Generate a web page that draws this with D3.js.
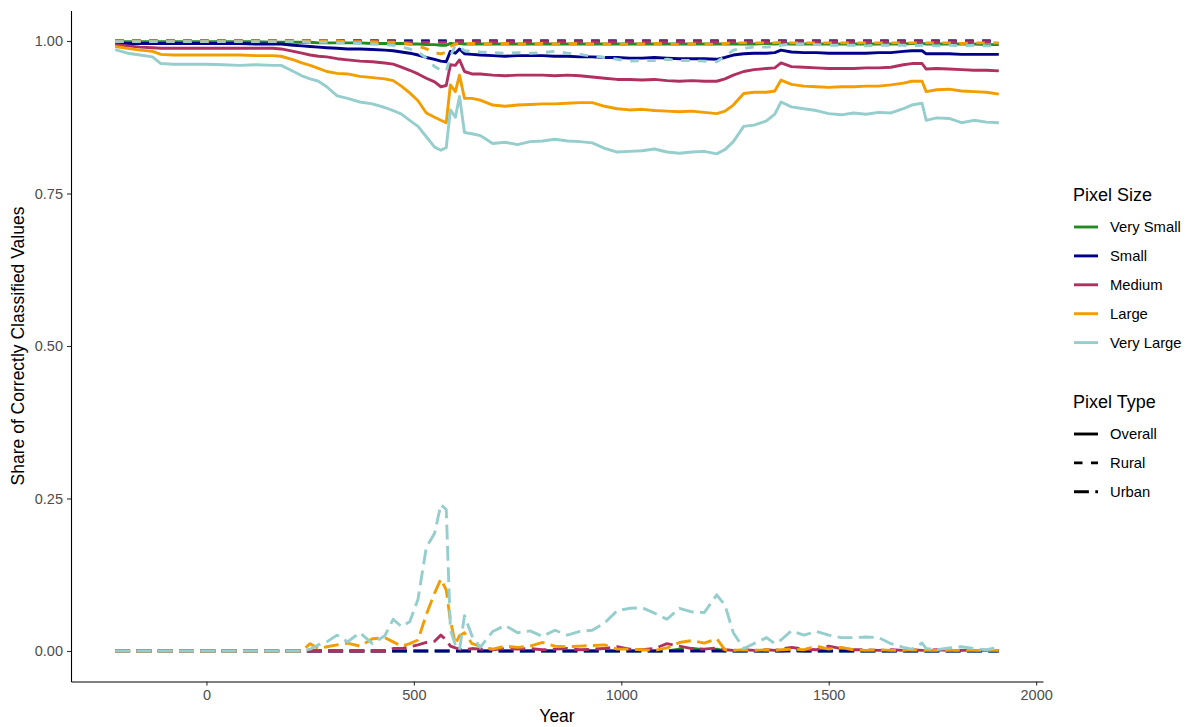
<!DOCTYPE html>
<html>
<head>
<meta charset="utf-8">
<script src="https://cdn.jsdelivr.net/npm/d3@7"></script>
<style>
	body { margin: 0; background: #ffffff; }
	svg { font-family: "Liberation Sans", Arial, Helvetica, sans-serif; }
</style>
</head>
<body>
<svg id="svg_main" width="1192" height="727"></svg>
<script>
// years shared by every series (irregular, finer where the curves jump)
var years = [
	-220, -190, -160, -130, -110, -80, -40, 0, 40, 80,
	120, 160, 180, 210, 230, 250, 270, 290, 315, 340,
	370, 400, 430, 450, 470, 490, 510, 530, 550, 565,
	578, 588, 600, 610, 622, 640, 660, 690, 720, 750,
	780, 810, 840, 870, 900, 930, 960, 990, 1020, 1050,
	1080, 1110, 1140, 1170, 1200, 1230, 1250, 1270, 1295, 1320,
	1350, 1370, 1385, 1410, 1440, 1470, 1500, 1530, 1560, 1590,
	1620, 1650, 1680, 1700, 1725, 1735, 1760, 1790, 1820, 1850,
	1880, 1910];

var sizes = ["Very Small", "Small", "Medium", "Large", "Very Large"];
var types = ["Overall", "Rural", "Urban"];
var colors = ["#228B22", "#00008B", "#B03060", "#F29D00", "#96CDCD"];
var dashes = { "Overall": null, "Rural": "8.5,8.5", "Urban": "14.9,6.4" };

var yTicks = [0, 0.25, 0.5, 0.75, 1];
var xTicks = [0, 500, 1000, 1500, 2000];

// Overall
var vsOverall = [
	0.999, 0.999, 0.999, 0.999, 0.999, 0.999, 0.999, 0.999, 0.999, 0.999,
	0.999, 0.998, 0.998, 0.998, 0.998, 0.998, 0.997, 0.997, 0.997, 0.997,
	0.997, 0.996, 0.996, 0.996, 0.996, 0.995, 0.995, 0.994, 0.994, 0.993,
	0.993, 0.996, 0.995, 0.996, 0.995, 0.995, 0.995, 0.995, 0.995, 0.995,
	0.995, 0.995, 0.995, 0.995, 0.995, 0.995, 0.995, 0.995, 0.995, 0.995,
	0.995, 0.995, 0.995, 0.995, 0.995, 0.995, 0.995, 0.995, 0.995, 0.995,
	0.996, 0.995, 0.996, 0.995, 0.995, 0.995, 0.995, 0.995, 0.995, 0.995,
	0.995, 0.995, 0.995, 0.996, 0.996, 0.995, 0.995, 0.995, 0.995, 0.995,
	0.994, 0.994];
var smOverall = [
	0.997, 0.996, 0.996, 0.996, 0.996, 0.996, 0.996, 0.996, 0.996, 0.996,
	0.995, 0.995, 0.995, 0.993, 0.992, 0.991, 0.990, 0.989, 0.988, 0.987,
	0.987, 0.986, 0.985, 0.984, 0.982, 0.980, 0.977, 0.973, 0.970, 0.967,
	0.966, 0.983, 0.980, 0.987, 0.979, 0.978, 0.977, 0.976, 0.975, 0.976,
	0.976, 0.976, 0.975, 0.975, 0.974, 0.974, 0.973, 0.973, 0.972, 0.972,
	0.973, 0.972, 0.971, 0.971, 0.971, 0.970, 0.973, 0.977, 0.979, 0.980,
	0.980, 0.981, 0.985, 0.982, 0.981, 0.981, 0.980, 0.980, 0.980, 0.980,
	0.981, 0.981, 0.983, 0.984, 0.984, 0.979, 0.979, 0.979, 0.978, 0.978,
	0.978, 0.978];
var mdOverall = [
	0.994, 0.992, 0.990, 0.989, 0.988, 0.988, 0.988, 0.988, 0.988, 0.988,
	0.988, 0.988, 0.987, 0.983, 0.980, 0.977, 0.975, 0.974, 0.971, 0.969,
	0.967, 0.966, 0.964, 0.962, 0.957, 0.952, 0.946, 0.939, 0.933, 0.925,
	0.927, 0.961, 0.960, 0.969, 0.950, 0.946, 0.946, 0.944, 0.943, 0.944,
	0.944, 0.944, 0.943, 0.944, 0.943, 0.941, 0.939, 0.937, 0.937, 0.936,
	0.937, 0.935, 0.934, 0.935, 0.934, 0.934, 0.938, 0.944, 0.950, 0.953,
	0.955, 0.956, 0.964, 0.958, 0.957, 0.956, 0.955, 0.955, 0.955, 0.956,
	0.956, 0.957, 0.961, 0.963, 0.963, 0.954, 0.955, 0.954, 0.953, 0.952,
	0.952, 0.951];
var lgOverall = [
	0.991, 0.988, 0.985, 0.983, 0.978, 0.977, 0.977, 0.977, 0.977, 0.977,
	0.976, 0.976, 0.975, 0.969, 0.964, 0.960, 0.955, 0.950, 0.947, 0.946,
	0.942, 0.940, 0.938, 0.935, 0.926, 0.915, 0.902, 0.882, 0.875, 0.870,
	0.866, 0.928, 0.917, 0.944, 0.906, 0.906, 0.903, 0.895, 0.893, 0.895,
	0.896, 0.897, 0.897, 0.898, 0.899, 0.899, 0.893, 0.889, 0.887, 0.888,
	0.886, 0.885, 0.884, 0.885, 0.883, 0.881, 0.885, 0.895, 0.914, 0.916,
	0.916, 0.918, 0.936, 0.929, 0.926, 0.925, 0.924, 0.925, 0.925, 0.926,
	0.926, 0.928, 0.931, 0.934, 0.934, 0.917, 0.920, 0.921, 0.918, 0.917,
	0.916, 0.913];
var vlOverall = [
	0.986, 0.980, 0.977, 0.974, 0.963, 0.962, 0.962, 0.962, 0.961, 0.960,
	0.961, 0.960, 0.960, 0.950, 0.943, 0.938, 0.934, 0.925, 0.910, 0.906,
	0.900, 0.897, 0.891, 0.886, 0.880, 0.870, 0.860, 0.843, 0.826, 0.821,
	0.825, 0.887, 0.875, 0.909, 0.850, 0.848, 0.845, 0.832, 0.834, 0.830,
	0.835, 0.836, 0.839, 0.836, 0.835, 0.833, 0.824, 0.818, 0.819, 0.820,
	0.823, 0.818, 0.816, 0.818, 0.819, 0.815, 0.822, 0.835, 0.860, 0.862,
	0.869, 0.880, 0.900, 0.892, 0.889, 0.886, 0.881, 0.879, 0.882, 0.880,
	0.883, 0.882, 0.889, 0.895, 0.898, 0.870, 0.874, 0.873, 0.866, 0.870,
	0.867, 0.866];

// Rural
var vsRural = [
	1, 1, 1, 1, 1, 1, 1, 1, 1, 1,
	1, 1, 1, 1, 1, 1, 1, 1, 1, 1,
	1, 1, 1, 1, 1, 1, 1, 1, 1, 1,
	1, 1, 1, 1, 1, 1, 1, 1, 1, 1,
	1, 1, 1, 1, 1, 1, 1, 1, 1, 1,
	1, 1, 1, 1, 1, 1, 1, 1, 1, 1,
	1, 1, 1, 1, 1, 1, 1, 1, 1, 1,
	1, 1, 1, 1, 1, 1, 1, 1, 1, 1,
	1, 1];
var smRural = [
	1, 1, 1, 1, 1, 1, 1, 1, 1, 1,
	1, 1, 1, 1, 1, 1, 1, 1, 1, 1,
	1, 1, 1, 1, 1, 1, 1, 1, 1, 1,
	1, 1, 1, 1, 1, 1, 1, 1, 1, 1,
	1, 1, 1, 1, 1, 1, 1, 1, 1, 1,
	1, 1, 1, 1, 1, 1, 1, 1, 1, 1,
	1, 1, 1, 1, 1, 1, 1, 1, 1, 1,
	1, 1, 1, 1, 1, 1, 1, 1, 1, 1,
	1, 1];
var mdRural = [
	0.999, 0.999, 0.999, 0.999, 0.999, 0.999, 0.999, 0.999, 0.999, 0.999,
	0.999, 0.999, 0.999, 0.999, 0.999, 0.999, 0.999, 0.999, 0.999, 0.999,
	0.999, 0.999, 0.999, 0.999, 0.998, 0.998, 0.998, 0.998, 0.998, 0.998,
	0.998, 0.999, 0.999, 0.999, 0.999, 0.999, 0.999, 0.999, 0.999, 0.999,
	0.999, 0.999, 0.999, 0.999, 0.999, 0.999, 0.999, 0.999, 0.999, 0.999,
	0.999, 0.999, 0.999, 0.999, 0.999, 0.999, 0.999, 0.999, 0.999, 0.999,
	0.999, 0.999, 0.999, 0.999, 0.999, 0.999, 0.999, 0.999, 0.999, 0.999,
	0.999, 0.999, 0.999, 0.999, 0.999, 0.999, 0.999, 0.999, 0.999, 0.999,
	0.999, 0.999];
var lgRural = [
	1, 1, 1, 1, 1, 1, 1, 1, 1, 1,
	1, 1, 1, 1, 1, 1, 1, 1, 1, 0.999,
	0.999, 0.999, 0.998, 0.998, 0.997, 0.995, 0.992, 0.987, 0.981, 0.979,
	0.982, 0.991, 0.995, 0.996, 0.995, 0.996, 0.995, 0.995, 0.996, 0.995,
	0.995, 0.996, 0.995, 0.995, 0.996, 0.995, 0.995, 0.994, 0.995, 0.995,
	0.996, 0.995, 0.994, 0.995, 0.995, 0.994, 0.996, 0.997, 0.997, 0.997,
	0.997, 0.997, 0.998, 0.997, 0.997, 0.997, 0.997, 0.997, 0.997, 0.997,
	0.997, 0.997, 0.997, 0.997, 0.997, 0.997, 0.997, 0.997, 0.996, 0.997,
	0.997, 0.997];
var vlRural = [
	0.999, 0.999, 0.999, 0.999, 0.999, 0.999, 0.999, 0.999, 0.999, 0.999,
	0.999, 0.999, 0.999, 0.999, 0.999, 0.998, 0.998, 0.998, 0.997, 0.997,
	0.996, 0.995, 0.994, 0.993, 0.990, 0.987, 0.982, 0.972, 0.958, 0.952,
	0.950, 0.975, 0.993, 0.990, 0.984, 0.983, 0.982, 0.981, 0.980, 0.981,
	0.980, 0.981, 0.983, 0.980, 0.978, 0.975, 0.973, 0.970, 0.967, 0.968,
	0.968, 0.970, 0.968, 0.968, 0.967, 0.966, 0.975, 0.985, 0.988, 0.990,
	0.990, 0.991, 0.993, 0.995, 0.995, 0.994, 0.993, 0.993, 0.993, 0.992,
	0.993, 0.993, 0.993, 0.992, 0.993, 0.993, 0.992, 0.993, 0.992, 0.993,
	0.992, 0.992];

// Urban
var vsUrban = [
	0, 0, 0, 0, 0, 0, 0, 0, 0, 0,
	0, 0, 0, 0, 0, 0, 0, 0, 0, 0,
	0, 0, 0, 0, 0, 0, 0, 0, 0, 0,
	0, 0, 0, 0, 0, 0, 0, 0, 0, 0,
	0, 0, 0, 0, 0, 0, 0, 0, 0, 0,
	0, 0, 0.003, 0.004, 0.002, 0.003, 0, 0, 0, 0,
	0, 0, 0, 0.002, 0, 0, 0, 0, 0, 0,
	0, 0, 0, 0, 0, 0, 0, 0, 0, 0,
	0, 0];
var smUrban = [
	0, 0, 0, 0, 0, 0, 0, 0, 0, 0,
	0, 0, 0, 0, 0, 0, 0, 0, 0, 0,
	0, 0, 0, 0, 0, 0, 0, 0, 0, 0,
	0, 0, 0, 0, 0, 0, 0, 0, 0, 0,
	0, 0, 0, 0, 0, 0, 0, 0, 0, 0,
	0, 0, 0, 0, 0, 0, 0, 0, 0, 0,
	0, 0, 0, 0, 0, 0, 0, 0, 0, 0,
	0, 0, 0, 0, 0, 0, 0, 0, 0, 0,
	0, 0];
var mdUrban = [
	0, 0, 0, 0, 0, 0, 0, 0, 0, 0,
	0, 0, 0, 0, 0, 0, 0, 0, 0, 0,
	0, 0, 0, 0.004, 0.004, 0.007, 0.010, 0.014, 0.016, 0.026,
	0.018, 0.008, 0.005, 0.003, 0.002, 0.004, 0.003, 0.002, 0.004, 0.003,
	0.004, 0.002, 0.003, 0.004, 0.002, 0.003, 0.004, 0.007, 0.003, 0.002,
	0.004, 0.012, 0.008, 0.004, 0.003, 0.005, 0.002, 0.001, 0.002, 0.001,
	0.002, 0.001, 0.003, 0.006, 0.003, 0.002, 0.008, 0.004, 0.002, 0.002,
	0.001, 0.002, 0.001, 0.002, 0.001, 0.001, 0.002, 0.001, 0.001, 0.001,
	0.001, 0.001];
var lgUrban = [
	0, 0, 0, 0, 0, 0, 0, 0, 0, 0,
	0, 0, 0, 0, 0, 0.012, 0.004, 0.007, 0.010, 0.013,
	0.008, 0.020, 0.022, 0.015, 0.008, 0.012, 0.018, 0.060, 0.095, 0.118,
	0.100, 0.050, 0.012, 0.025, 0.030, 0.012, 0.008, 0.003, 0.008, 0.006,
	0.008, 0.014, 0.008, 0.007, 0.008, 0.009, 0.010, 0.003, 0.003, 0.002,
	0.001, 0.005, 0.014, 0.017, 0.013, 0.020, 0.002, 0.001, 0.002, 0.001,
	0.002, 0.001, 0.002, 0.003, 0.002, 0.008, 0.003, 0.006, 0.002, 0.001,
	0.002, 0.001, 0.001, 0.002, 0.001, 0.001, 0.001, 0.001, 0.001, 0.001,
	0.001, 0.001];
var vlUrban = [
	0, 0, 0, 0, 0, 0, 0, 0, 0, 0,
	0, 0, 0, 0, 0, 0.003, 0.010, 0.015, 0.026, 0.015,
	0.030, 0.012, 0.025, 0.052, 0.040, 0.048, 0.085, 0.170, 0.193, 0.240,
	0.232, 0.035, 0.010, 0.002, 0.058, 0.025, 0.006, 0.032, 0.042, 0.030,
	0.033, 0.024, 0.034, 0.026, 0.032, 0.034, 0.046, 0.066, 0.070, 0.071,
	0.062, 0.052, 0.070, 0.064, 0.063, 0.092, 0.075, 0.030, 0.004, 0.012,
	0.022, 0.012, 0.018, 0.033, 0.026, 0.032, 0.026, 0.022, 0.022, 0.023,
	0.022, 0.012, 0.006, 0.003, 0.013, 0.004, 0.002, 0.005, 0.007, 0.004,
	0.002, 0.006];

var table = {
	"Overall": [vsOverall, smOverall, mdOverall, lgOverall, vlOverall],
	"Rural": [vsRural, smRural, mdRural, lgRural, vlRural],
	"Urban": [vsUrban, smUrban, mdUrban, lgUrban, vlUrban]
};

var margin = { top: 10.5, right: 149, bottom: 45.5, left: 71 };

function main() {
	var svg = d3.select("#svg_main");
	var width = 1192 - margin.left - margin.right,
		height = 727 - margin.top - margin.bottom;

	var series = [];
	for (let t of types) {
		sizes.forEach((s, i) => {
			let vals = table[t][i];
			if (vals.length != years.length) console.error(`${t} ${s}: ${vals.length}`);
			series.push({ size: s, type: t, color: colors[i],
				values: years.map((yr, j) => ({ year: yr, v: vals[j] })) });
		});
	}

	// ggplot style 5% expansion on both axes
	var xExt = d3.extent(years), xPad = (xExt[1] - xExt[0]) * 0.05;
	var x = d3.scaleLinear().domain([xExt[0] - xPad, xExt[1] + xPad]).range([0, width]);
	var y = d3.scaleLinear().domain([-0.05, 1.05]).range([height, 0]);

	var g = svg.append("g")
		.attr("transform", `translate(${margin.left}, ${margin.top})`);

	var line = d3.line()
		.x(d => x(d.year))
		.y(d => y(d.v));

	g.append("g")
		.attr("class", "lines")
		.selectAll("path")
		.data(series)
		.enter().append("path")
		.attr("d", d => line(d.values))
		.attr("fill", "none")
		.attr("stroke", d => d.color)
		.attr("stroke-width", 2.9)
		.attr("stroke-linejoin", "round")
		.attr("stroke-dasharray", d => dashes[d.type]);

	var xAxis = d3.axisBottom(x).tickValues(xTicks).tickFormat(d3.format("d")).tickSizeInner(4).tickSizeOuter(0).tickPadding(4),
		yAxis = d3.axisLeft(y).tickValues(yTicks).tickFormat(d3.format(".2f")).tickSizeInner(4).tickSizeOuter(0).tickPadding(4);

	var gx = g.append("g")
		.attr("class", "xAxis")
		.attr("transform", `translate(0, ${height})`)
		.call(xAxis);
	var gy = g.append("g")
		.attr("class", "yAxis")
		.call(yAxis);

	for (let ax of [gx, gy]) {
		ax.select(".domain").attr("stroke", "#000").attr("stroke-width", 1.1);
		ax.selectAll(".tick line").attr("stroke", "#333333").attr("stroke-width", 1.1);
		ax.selectAll(".tick text")
			.attr("fill", "#4D4D4D")
			.attr("font-size", "14.5px")
			.attr("font-family", "Liberation Sans, Arial, sans-serif");
	}

	svg.append("text")
		.attr("x", margin.left + width / 2)
		.attr("y", 722)
		.attr("text-anchor", "middle")
		.attr("font-size", "17.5px")
		.text("Year");
	svg.append("text")
		.attr("transform", `translate(24, ${margin.top + height / 2}) rotate(-90)`)
		.attr("text-anchor", "middle")
		.attr("font-size", "17.5px")
		.text("Share of Correctly Classified Values");

	// legends
	var legend = svg.append("g")
		.attr("class", "legend");

	legend.append("text")
		.attr("x", 1073)
		.attr("y", 201)
		.attr("font-size", "18px")
		.text("Pixel Size");

	sizes.forEach((s, i) => {
		let ky = 227 + i * 28.9;
		legend.append("line")
			.attr("x1", 1074).attr("x2", 1098)
			.attr("y1", ky).attr("y2", ky)
			.attr("stroke", colors[i])
			.attr("stroke-width", 2.9);
		legend.append("text")
			.attr("x", 1110)
			.attr("y", ky + 5)
			.attr("font-size", "14.8px")
			.text(s);
	});

	legend.append("text")
		.attr("x", 1073)
		.attr("y", 408)
		.attr("font-size", "18px")
		.text("Pixel Type");

	types.forEach((t, i) => {
		let ky = 434 + i * 28.9;
		legend.append("line")
			.attr("x1", 1074).attr("x2", 1098)
			.attr("y1", ky).attr("y2", ky)
			.attr("stroke", "#000")
			.attr("stroke-width", 2.9)
			.attr("stroke-dasharray", dashes[t]);
		legend.append("text")
			.attr("x", 1110)
			.attr("y", ky + 5)
			.attr("font-size", "14.8px")
			.text(t);
	});
}

main();
</script>
</body>
</html>
